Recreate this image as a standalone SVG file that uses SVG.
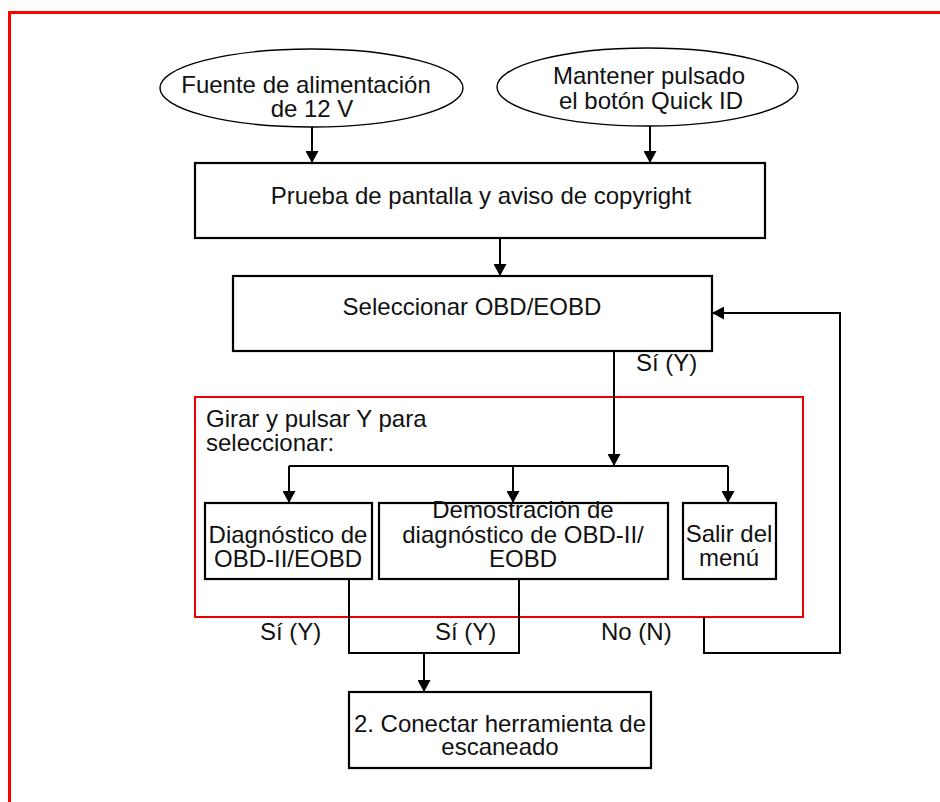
<svg xmlns="http://www.w3.org/2000/svg" width="940" height="802" viewBox="0 0 940 802">
<defs>
<marker id="ah" markerUnits="userSpaceOnUse" markerWidth="13" markerHeight="13" refX="12" refY="6.5" orient="auto">
<path d="M0,0 L12,6.5 L0,13 z" fill="#000"/>
</marker>
<style>
text{font-family:"Liberation Sans",Arial,sans-serif;font-size:24px;fill:#111}
.c{text-anchor:middle}
.box{fill:#fff;stroke:#000;stroke-width:2.2}
.ell{fill:#fff;stroke:#000;stroke-width:1.4}
.ln{fill:none;stroke:#000;stroke-width:2}
.arr{fill:none;stroke:#000;stroke-width:2;marker-end:url(#ah)}
</style>
</defs>
<rect width="940" height="802" fill="#fff"/>
<path d="M9.5,802 V12.5 H940" fill="none" stroke="#f00" stroke-width="3"/>

<g id="group-select">
<rect x="195" y="397" width="608" height="220" fill="none" stroke="#e00" stroke-width="2"/>
<text x="206" y="427">Girar y pulsar Y para</text>
<text x="206" y="451">seleccionar:</text>
</g>

<g id="connectors">
<line class="arr" x1="312" y1="127" x2="312" y2="163"/>
<line class="arr" x1="650" y1="126" x2="650" y2="163"/>
<line class="arr" x1="500" y1="238" x2="500" y2="276"/>
<line class="arr" x1="614" y1="351" x2="614" y2="466"/>
<line class="ln" x1="289" y1="466" x2="728" y2="466"/>
<line class="arr" x1="289" y1="466" x2="289" y2="503"/>
<line class="arr" x1="513" y1="466" x2="513" y2="503"/>
<line class="arr" x1="728" y1="466" x2="728" y2="503"/>
<path class="ln" d="M349,579 V653 H519 V579"/>
<line class="arr" x1="424" y1="653" x2="424" y2="692"/>
<path class="arr" d="M704,617 V653 H840 V313 H712"/>
<text x="636" y="371">Sí (Y)</text>
<text x="260" y="640">Sí (Y)</text>
<text x="435" y="640">Sí (Y)</text>
<text x="601" y="640">No (N)</text>
</g>

<g id="power">
<ellipse class="ell" cx="311.5" cy="88" rx="151.5" ry="39"/>
<text class="c" x="306" y="93">Fuente de alimentación</text>
<text class="c" x="312" y="117">de 12 V</text>
</g>

<g id="quickid">
<ellipse class="ell" cx="647.5" cy="87" rx="150.5" ry="39"/>
<text class="c" x="649" y="84">Mantener pulsado</text>
<text class="c" x="651" y="109">el botón Quick ID</text>
</g>

<g id="screen-test">
<rect class="box" x="195" y="163" width="570" height="75"/>
<text class="c" x="481" y="204">Prueba de pantalla y aviso de copyright</text>
</g>

<g id="select-obd">
<rect class="box" x="233" y="276" width="479" height="75"/>
<text class="c" x="472" y="315">Seleccionar OBD/EOBD</text>
</g>

<g id="diag">
<rect class="box" x="205" y="503" width="167" height="76"/>
<text class="c" x="288" y="543">Diagnóstico de</text>
<text class="c" x="288" y="567">OBD-II/EOBD</text>
</g>

<g id="demo">
<rect class="box" x="379" y="503" width="289" height="76"/>
<text class="c" x="523" y="518">Demostración de</text>
<text class="c" x="523" y="543">diagnóstico de OBD-II/</text>
<text class="c" x="523" y="567">EOBD</text>
</g>

<g id="exit">
<rect class="box" x="683" y="503" width="93" height="76"/>
<text class="c" x="729" y="542">Salir del</text>
<text class="c" x="729" y="566">menú</text>
</g>

<g id="connect-tool">
<rect class="box" x="349" y="692" width="302" height="76"/>
<text class="c" x="500" y="732">2. Conectar herramienta de</text>
<text class="c" x="500" y="755">escaneado</text>
</g>
</svg>
